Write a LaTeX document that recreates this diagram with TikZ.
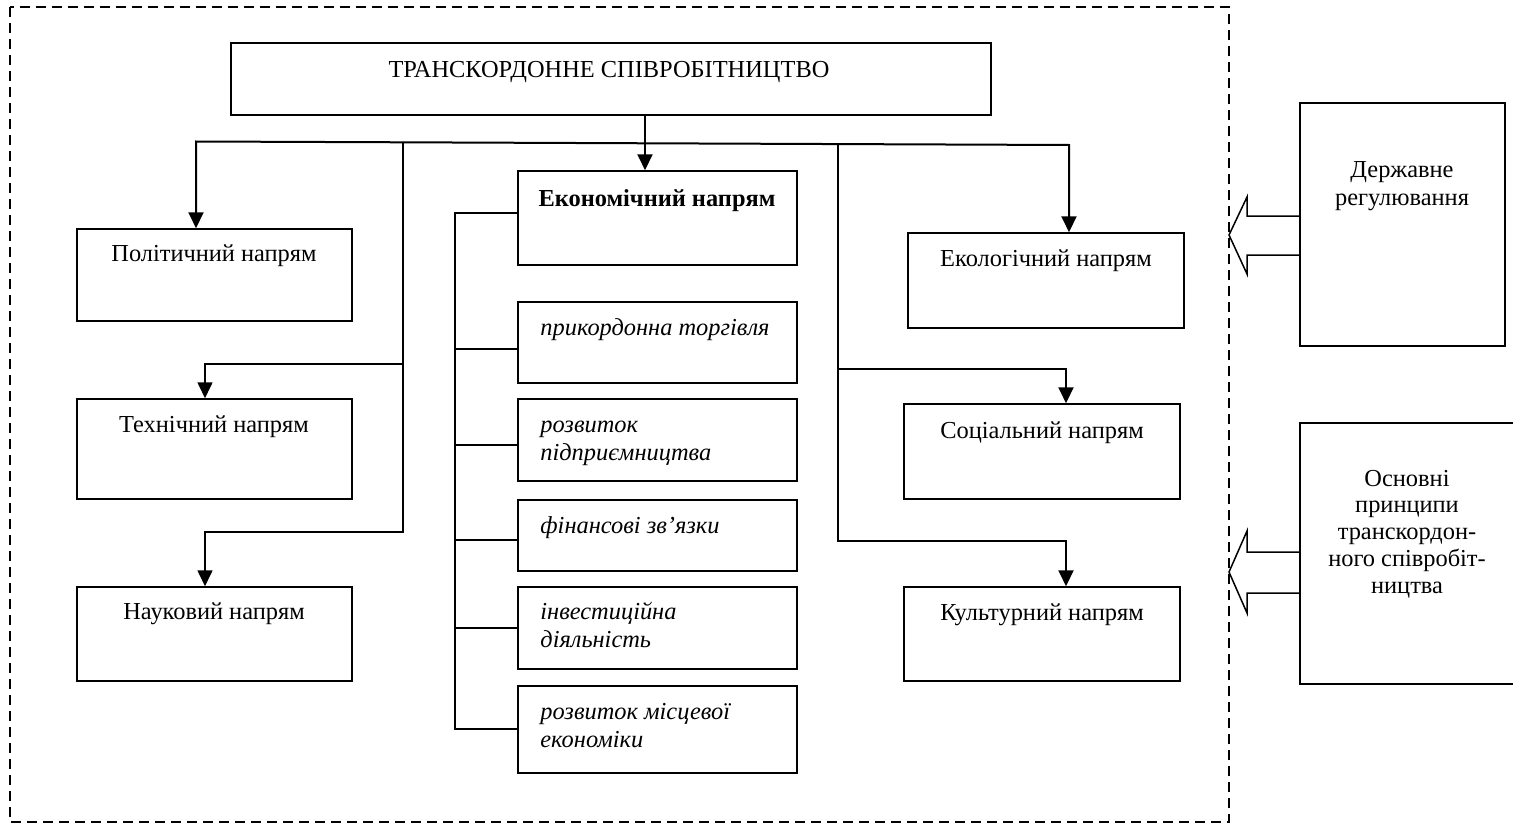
\documentclass[tikz,border=0pt]{standalone}
\usepackage{fontspec}
\setmainfont{Liberation Serif}
\usetikzlibrary{arrows.meta,fit}
\begin{document}
\begin{tikzpicture}[x=0.5pt,y=-0.5pt,
  boxst/.style={draw, line width=0.75pt, inner sep=0pt},
  txt/.style={font=\fontsize{12.2pt}{13.5pt}\selectfont, inner sep=0pt, anchor=base, align=center},
  btxt/.style={txt, font=\fontsize{12.2pt}{13.5pt}\selectfont\bfseries},
  itxt/.style={txt, font=\fontsize{12.2pt}{13.9pt}\selectfont\itshape, anchor=base west, align=left},
  arr/.style={line width=1pt, -{Triangle[length=8pt,width=7.5pt]}},
  thinarr/.style={line width=0.8pt, -{Triangle[length=8pt,width=7.5pt]}},
  link/.style={line width=0.75pt},
  blockarr/.style={draw, line width=0.75pt, line join=miter},
  frame/.style={draw, line width=1pt, dash pattern=on 5pt off 3pt}]
\clip (0,0) rectangle (1513,824);
% outer dashed frame
\draw[frame] (10,7) rectangle (1229,822);
% boxes
\node[boxst, fit={(231,43) (991,115)}] (top) {};
\node[boxst, fit={(77,229) (352,321)}] (pol) {};
\node[boxst, fit={(77,399) (352,499)}] (tech) {};
\node[boxst, fit={(77,587) (352,681)}] (nauk) {};
\node[boxst, fit={(518,171) (797,265)}] (econ) {};
\node[boxst, fit={(518,302) (797,383)}] (e1) {};
\node[boxst, fit={(518,399) (797,481)}] (e2) {};
\node[boxst, fit={(518,500) (797,571)}] (e3) {};
\node[boxst, fit={(518,587) (797,669)}] (e4) {};
\node[boxst, fit={(518,686) (797,773)}] (e5) {};
\node[boxst, fit={(908,233) (1184,328)}] (eco) {};
\node[boxst, fit={(904,404) (1180,499)}] (soc) {};
\node[boxst, fit={(904,587) (1180,681)}] (cult) {};
\node[boxst, fit={(1300,103) (1505,346)}] (derzh) {};
\node[boxst, fit={(1300,423) (1530,684)}] (osn) {};
% texts (multi-line nodes are anchored at the baseline of their last line)
\node[txt] (ttop) at (609,77) {ТРАНСКОРДОННЕ СПІВРОБІТНИЦТВО};
\node[txt] (tpol) at (214,261) {Політичний напрям};
\node[txt] (ttech) at (214,432) {Технічний напрям};
\node[txt] (tnauk) at (214,619) {Науковий напрям};
\node[btxt] (tecon) at (657,206) {Економічний напрям};
\node[itxt] (te1) at (540,335) {прикордонна торгівля};
\node[itxt] (te2) at (540,460) {розвиток\\підприємництва};
\node[itxt] (te3) at (540,533) {фінансові зв’язки};
\node[itxt] (te4) at (540,647) {інвестиційна\\діяльність};
\node[itxt] (te5) at (540,747) {розвиток місцевої\\економіки};
\node[txt] (teco) at (1046,266) {Екологічний напрям};
\node[txt] (tsoc) at (1042,438) {Соціальний напрям};
\node[txt] (tcult) at (1042,620) {Культурний напрям};
\node[txt] (tderzh) at (1402,205) {Державне\\регулювання};
\node[txt, font=\fontsize{12.2pt}{13.35pt}\selectfont] (tosn) at (1407,593) {Основні\\принципи\\транскордон-\\ного співробіт-\\ництва};
% junction coordinates
\coordinate (busL) at (196,141.5);
\coordinate (busR) at (1069,145);
\coordinate (vL) at (403,142.3);
\coordinate (vR) at (838,144.1);
\coordinate (cax) at (645,0);
\coordinate (tA) at (205,364);
\coordinate (nA) at (205,532);
\coordinate (sA) at (1066,369);
\coordinate (kA) at (1066,541);
% connectors from the top box
\draw[arr] (top.south -| cax) -- (econ.north -| cax);
\draw[arr] (vL) -- (busL) -- (busL |- pol.north);
\draw[arr] (vL) -- (busR) -- (busR |- eco.north);
\draw[thinarr] (vL) |- (nA) -- (nA |- nauk.north);
\draw[thinarr] (vL |- tA) -- (tA) -- (tA |- tech.north);
\draw[arr] (vR) |- (kA) -- (kA |- cult.north);
\draw[arr] (vR |- sA) -- (sA) -- (sA |- soc.north);
% economic bracket
\coordinate (bT) at (455,213);
\coordinate (bB) at (455,729);
\coordinate (s1) at (455,349);
\coordinate (s2) at (455,445);
\coordinate (s3) at (455,540);
\coordinate (s4) at (455,628);
\draw[link] (bT -| econ.west) -- (bT) -- (bB) -- (bB -| e5.west);
\draw[link] (s1) -- (s1 -| e1.west);
\draw[link] (s2) -- (s2 -| e2.west);
\draw[link] (s3) -- (s3 -| e3.west);
\draw[link] (s4) -- (s4 -| e4.west);
% block arrows
\coordinate (d1) at (1300,216);
\coordinate (d2) at (1300,255);
\draw[blockarr] (d1 -| derzh.west) -- (1247,216) -- (1247,197) -- (1229,235) -- (1247,274) -- (1247,255) -- (d2 -| derzh.west);
\coordinate (o1) at (1300,552);
\coordinate (o2) at (1300,593);
\draw[blockarr] (o1 -| osn.west) -- (1247,552) -- (1247,531) -- (1229,572) -- (1247,613) -- (1247,593) -- (o2 -| osn.west);
\end{tikzpicture}
\end{document}
